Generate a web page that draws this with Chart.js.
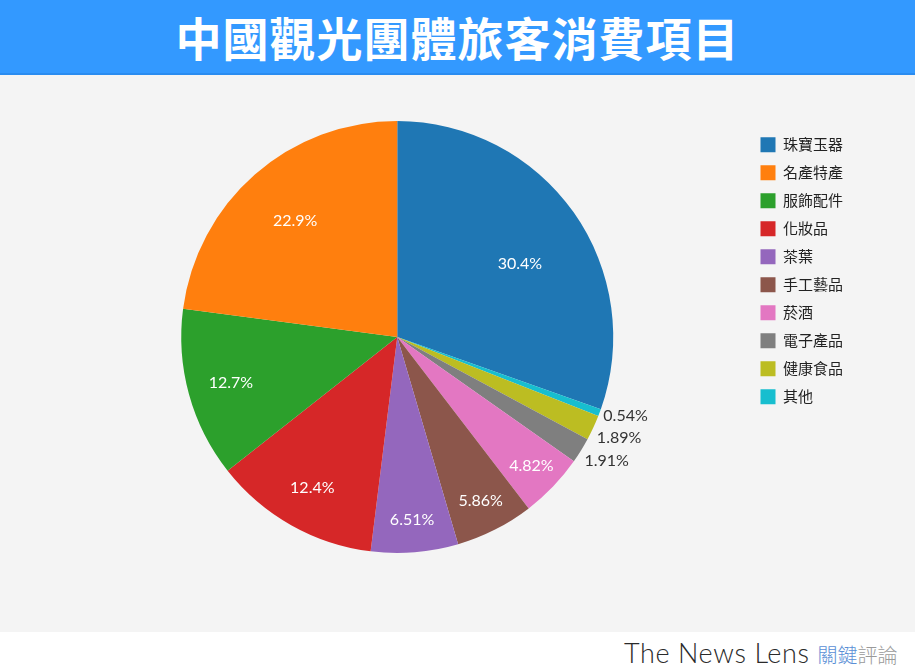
<!DOCTYPE html>
<html>
<head>
<meta charset="utf-8">
<script src="https://cdn.jsdelivr.net/npm/chart.js@4.4.0/dist/chart.umd.min.js"></script>
<style>
  html, body { margin:0; padding:0; width:915px; height:672px; background:#ffffff; overflow:hidden; }
  #titlebar { position:absolute; left:0; top:0; width:915px; height:73px; background:#3399ff; border-bottom:2px solid #2a8cf0;
    color:#fff; font-family:"Noto Sans CJK TC","Noto Sans CJK SC",sans-serif; font-weight:700; font-size:46px;
    text-align:center; line-height:73px; letter-spacing:1px; }
  #panel { position:absolute; left:0; top:75px; width:915px; height:557px; background:#f4f4f4; }
  #logo { position:absolute; left:624px; top:636px; font-family:Lato, "Open Sans", sans-serif; font-size:27px; color:#2a2a2a; font-weight:300; letter-spacing:0.6px; white-space:nowrap; }
  #logo .cjk { font-family:"Noto Sans CJK TC",sans-serif; font-size:20px; letter-spacing:0; margin-left:8px; }
</style>
</head>
<body>
<div id="titlebar">中國觀光團體旅客消費項目</div>
<div id="panel"><canvas id="c" width="915" height="557"></canvas></div>
<div id="logo">The News Lens<span class="cjk"><span style="color:#5b8fd6">關鍵</span><span style="color:#9a9a9a">評論</span></span></div>
<script>
const categories = ["珠寶玉器","名產特產","服飾配件","化妝品","茶葉","手工藝品","菸酒","電子產品","健康食品","其他"];
const values = [30.4, 22.9, 12.7, 12.4, 6.51, 5.86, 4.82, 1.91, 1.89, 0.54];
const valueLabels = ["30.4%","22.9%","12.7%","12.4%","6.51%","5.86%","4.82%","1.91%","1.89%","0.54%"];
const colors = ["#1f77b4","#ff7f0e","#2ca02c","#d62728","#9467bd","#8c564b","#e377c2","#7f7f7f","#bcbd22","#17becf"];

// pie is drawn: first slice clockwise from top, the rest counter-clockwise from the top
const order = [0].concat(categories.map((_, i) => i).slice(1).reverse());
const pieLabels = order.map(i => categories[i]);
const pieValues = order.map(i => values[i]);
const pieColors = order.map(i => colors[i]);
const pieText = order.map(i => valueLabels[i]);

const labelPlugin = {
  id: 'sliceLabels',
  afterDatasetsDraw(chart) {
    const ctx = chart.ctx;
    const meta = chart.getDatasetMeta(0);
    const outside = [];
    ctx.save();
    ctx.font = '16px Lato, "Open Sans", sans-serif';
    meta.data.forEach((arc, i) => {
      const v = pieValues[i];
      const mid = (arc.startAngle + arc.endAngle) / 2;
      const r = arc.outerRadius;
      if (v >= 3) {
        const f = Math.min(0.88, Math.max(0.66, 0.9 - v * 0.008));
        const a = v > 25 ? mid + 0.08 : mid;
        ctx.fillStyle = '#ffffff';
        ctx.textAlign = 'center';
        ctx.textBaseline = 'middle';
        ctx.fillText(pieText[i], arc.x + Math.cos(a) * r * f, arc.y + Math.sin(a) * r * f);
      } else {
        outside.push({ text: pieText[i], x: arc.x + Math.cos(mid) * (r + 4), top: arc.y + Math.sin(mid) * (r + 3) });
      }
    });
    for (let k = outside.length - 2; k >= 0; k--) {
      if (outside[k].top > outside[k + 1].top - 22) outside[k].top = outside[k + 1].top - 22;
    }
    ctx.fillStyle = '#333333';
    ctx.textAlign = 'left';
    ctx.textBaseline = 'middle';
    outside.forEach(o => ctx.fillText(o.text, o.x, o.top + 9));
    ctx.restore();
  }
};

new Chart(document.getElementById('c'), {
  type: 'pie',
  data: {
    labels: pieLabels,
    datasets: [{ data: pieValues, backgroundColor: pieColors, borderWidth: 0 }]
  },
  options: {
    responsive: false,
    animation: false,
    layout: { padding: { left: 47, right: 62, top: 46, bottom: 79 } },
    plugins: {
      tooltip: { enabled: false },
      legend: {
        position: 'right',
        align: 'start',
        title: { display: true, text: ' ', font: { size: 1 }, padding: { top: 1, bottom: 1 } },
        labels: {
          boxWidth: 15, boxHeight: 15, padding: 13,
          color: '#222222',
          font: { size: 15, family: '"Noto Sans CJK TC", sans-serif' },
          sort: (a, b) => categories.indexOf(a.text) - categories.indexOf(b.text)
        }
      }
    }
  },
  plugins: [labelPlugin]
});
</script>
</body>
</html>
